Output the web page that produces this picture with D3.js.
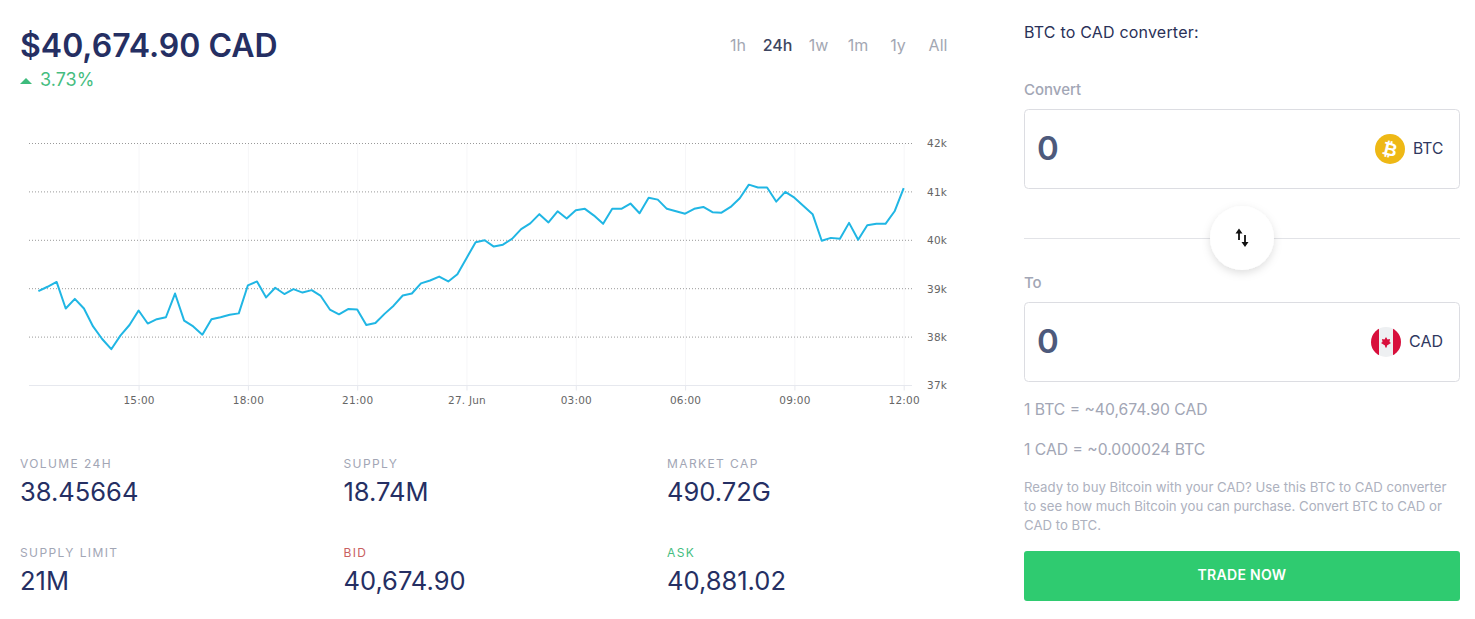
<!DOCTYPE html>
<html><head><meta charset="utf-8">
<script src="https://cdn.jsdelivr.net/npm/d3@7"></script>
<style>
html,body{margin:0;padding:0;background:#fff;overflow:hidden}
svg{display:block}
text{font-family:Inter,"Noto Sans",sans-serif}
.axis text{font-family:"DejaVu Sans",sans-serif;font-size:10.5px;fill:#666;letter-spacing:.2px}
</style></head><body>
<svg id="c" width="1475" height="619"></svg>
<script>
const priceK = [38.95,39.04,39.14,38.59,38.79,38.59,38.22,37.96,37.75,38.03,38.25,38.55,38.28,38.37,38.41,38.90,38.34,38.22,38.05,38.37,38.41,38.46,38.49,39.07,39.15,38.82,39.02,38.89,38.99,38.92,38.97,38.85,38.57,38.47,38.58,
38.57,38.25,38.29,38.48,38.65,38.86,38.90,39.11,39.17,39.25,39.15,39.30,39.63,39.96,40.00,39.87,39.91,40.03,40.23,40.35,40.54,40.37,40.60,40.45,40.62,40.65,40.51,40.34,40.65,40.65,40.76,40.56,
40.88,40.84,40.65,40.60,40.55,40.65,40.69,40.58,40.57,40.69,40.87,41.15,41.09,41.09,40.80,41.00,40.88,40.71,40.54,39.99,40.05,40.03,40.36,40.01,40.31,40.34,40.34,40.60,41.08];
const startTime = Date.UTC(2021,5,26,12,15);
const stepMinutes = 15;
const yTicks = [37,38,39,40,41,42];
const xTickTimes = [Date.UTC(2021,5,26,15),Date.UTC(2021,5,26,18),Date.UTC(2021,5,26,21),Date.UTC(2021,5,27,0),Date.UTC(2021,5,27,3),Date.UTC(2021,5,27,6),Date.UTC(2021,5,27,9),Date.UTC(2021,5,27,12)];
const ranges = ["1h","24h","1w","1m","1y","All"];
const statLabels = ["VOLUME 24H","SUPPLY","MARKET CAP","SUPPLY LIMIT","BID","ASK"];
const statValues = ["38.45664","18.74M","490.72G","21M","40,674.90","40,881.02"];

const svg = d3.select("#c");
const navy = "#252f63", grey = "#a2a6b5", green = "#2fcb70";
const T = (x,y,s,size,fill,weight,anchor,ls)=>svg.append("text").attr("x",x).attr("y",y).text(s)
  .attr("font-size",size).attr("fill",fill).attr("font-weight",weight||400)
  .attr("text-anchor",anchor||"start").attr("letter-spacing",ls||0);

// header
T(20,57,"$40,674.90 CAD",32,navy,600);
svg.append("path").attr("d","M20 84 L26 78 L32 84 Z").attr("fill","#3dbb7c");
T(40,86,"3.73%",18,"#45bd80",400);
const rangeX = [738,777.5,818.5,858,898,938];
ranges.forEach((r,i)=>T(rangeX[i],51,r,16,i==1?"#3d4560":"#a3a7b3",i==1?500:400,"middle"));

// chart
const x = d3.scaleUtc().domain([startTime,startTime+(priceK.length-1)*stepMinutes*60000]).range([38.4,903.7]);
const y = d3.scaleLinear().domain([37,42]).range([385.5,143.5]);
const fmtX = t=> { const d=new Date(t); return d.getUTCHours()==0 ? "27. Jun" : d3.utcFormat("%H:%M")(d); };

const gx = svg.append("g").attr("class","axis").attr("transform","translate(0,385.5)")
  .call(d3.axisBottom(x).tickValues(xTickTimes).tickFormat(fmtX).tickSize(5).tickPadding(6));
gx.select(".domain").remove();
gx.selectAll("line").attr("stroke","#e6e8ee");
gx.selectAll("g.tick").append("line").attr("y1",0).attr("y2",-242).attr("stroke","#f6f6f8");

svg.append("line").attr("x1",29).attr("x2",912).attr("y1",y(37)).attr("y2",y(37)).attr("stroke","#e6e8ee");

const gy = svg.append("g").attr("class","axis").attr("transform","translate(912,0)")
  .call(d3.axisRight(y).tickValues(yTicks).tickFormat(d=>d+"k").tickSize(0).tickPadding(15));
gy.select(".domain").remove();
svg.append("g").selectAll("line").data(yTicks.filter(d=>d>37)).join("line")
  .attr("x1",29).attr("x2",912).attr("y1",d=>y(d)).attr("y2",d=>y(d))
  .attr("stroke","#999").attr("stroke-width",1).attr("stroke-dasharray","1 2");

const line = d3.line().x((d,i)=>x(startTime+i*stepMinutes*60000)).y(d=>y(d));
svg.append("path").datum(priceK).attr("d",line).attr("fill","none").attr("stroke","#20b6e4").attr("stroke-width",2).attr("stroke-linejoin","round");

// stats
const statX = [20,343.5,667];
statLabels.forEach((l,i)=>{
  const cx = statX[i%3], row = i<3?0:1;
  const col = l=="BID"?"#c9605f":l=="ASK"?"#45bd80":grey;
  T(cx,468+row*89,l,12,col,400,"start",1.4);
  T(cx,501+row*89,statValues[i],25.5,navy,400);
});

// converter
T(1024,38,"BTC to CAD converter:",16,"#2a3158",400,"start",.2);
T(1024,95,"Convert",15,grey,500);
T(1024,288,"To",15,grey,500);
const box = (yy)=>svg.append("rect").attr("x",1024.5).attr("y",yy).attr("width",435).attr("height",79).attr("rx",4).attr("fill","#fff").attr("stroke","#dcdde2");
box(109.5); box(302.5);
T(1037,160,"0",33,"#4d5a7c",600);
T(1037,353,"0",33,"#4d5a7c",600);

svg.append("circle").attr("cx",1390).attr("cy",149).attr("r",15).attr("fill","#eeb815");
T(1390,155.5,"₿",18,"#fff",700,"middle").style("font-family","'DejaVu Sans',sans-serif").attr("transform","rotate(14 1390 149)");
T(1413,154,"BTC",15.6,"#2f3760",400);

svg.append("clipPath").attr("id","fl").append("circle").attr("cx",1386).attr("cy",342).attr("r",15);
const flag = svg.append("g").attr("clip-path","url(#fl)");
flag.append("rect").attr("x",1371).attr("y",327).attr("width",30).attr("height",30).attr("fill","#eef0f2");
flag.append("rect").attr("x",1371).attr("y",327).attr("width",8).attr("height",30).attr("fill","#d80f3c");
flag.append("rect").attr("x",1393).attr("y",327).attr("width",8).attr("height",30).attr("fill","#d80f3c");
flag.append("path").attr("d","M1386 337 L1387.5 339.5 L1390 339 L1389.5 342 L1391 343 L1387 345.5 L1386.7 347.5 L1385.3 347.5 L1385 345.5 L1381 343 L1382.5 342 L1382 339 L1384.5 339.5 Z").attr("fill","#d80f3c");
T(1409,347,"CAD",16,"#2f3760",400);

svg.append("line").attr("x1",1024).attr("x2",1460).attr("y1",238.5).attr("y2",238.5).attr("stroke","#e2e3e7");
const defs = svg.append("defs");
const f = defs.append("filter").attr("id","sh").attr("x","-40%").attr("y","-40%").attr("width","180%").attr("height","180%");
f.append("feDropShadow").attr("dx",0).attr("dy",3).attr("stdDeviation",4).attr("flood-color","#000").attr("flood-opacity",.13);
svg.append("circle").attr("cx",1242).attr("cy",238).attr("r",32).attr("fill","#fff").attr("filter","url(#sh)");
svg.append("path").attr("d","M1239 240 V232 M1245 235 V243").attr("fill","none").attr("stroke","#111").attr("stroke-width",1.8);
svg.append("path").attr("d","M1235.5 233.5 L1239 228.5 L1242.5 233.5 Z M1241.5 242 L1245 247 L1248.5 242 Z").attr("fill","#111");

T(1024,415,"1 BTC = ~40,674.90 CAD",15.7,grey,400);
T(1024,455,"1 CAD = ~0.000024 BTC",15.7,grey,400);
["Ready to buy Bitcoin with your CAD? Use this BTC to CAD converter","to see how much Bitcoin you can purchase. Convert BTC to CAD or","CAD to BTC."]
  .forEach((s,i)=>T(1024,492+i*19,s,13.2,"#adb1be",400));
svg.append("rect").attr("x",1024).attr("y",551).attr("width",436).attr("height",50).attr("rx",3).attr("fill",green);
T(1242,580,"TRADE NOW",14,"#fff",600,"middle",.3);
</script></body></html>
